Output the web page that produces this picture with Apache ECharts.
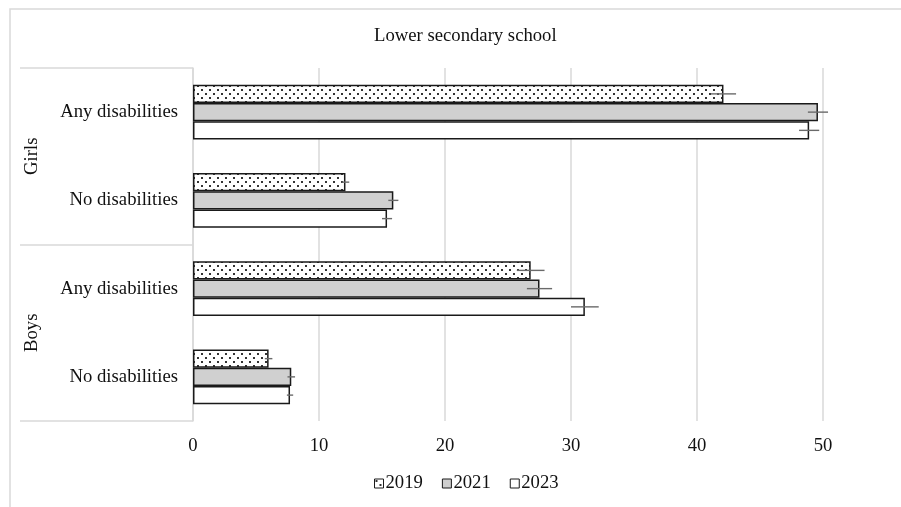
<!DOCTYPE html>
<html>
<head>
<meta charset="utf-8">
<script src="https://cdn.jsdelivr.net/npm/echarts@6/dist/echarts.min.js"></script>
<style>
html,body{margin:0;padding:0;background:#fff;}
#chart{width:901px;height:507px;}
</style>
</head>
<body>
<div id="chart"></div>
<script>
// ---- data ----
const title = 'Lower secondary school';
const groups = ['Girls', 'Boys'];
const subgroups = ['Any disabilities', 'No disabilities'];
const years = ['2019', '2021', '2023'];
const values2019 = [42.1, 12.1, 26.8, 6.0];
const values2021 = [49.6, 15.9, 27.5, 7.8];
const values2023 = [48.9, 15.4, 31.1, 7.7];
const err2019 = [1.0, 0.3, 1.1, 0.3];
const err2021 = [0.8, 0.4, 1.0, 0.3];
const err2023 = [0.8, 0.4, 1.1, 0.25];
const xTicks = [0, 10, 20, 30, 40, 50];

// ---- build ----
const categories = [];
groups.forEach(g => subgroups.forEach(s => categories.push(g + '|' + s)));
const seriesValues = [values2019, values2021, values2023];
const seriesErrors = [err2019, err2021, err2023];

const FONT = '"Liberation Serif", "Times New Roman", serif';
const FS = 18.7;
const TXT = '#111';
const GRID = '#d9d9d9';

// dotted pattern
const pc = document.createElement('canvas');
pc.width = 8; pc.height = 8;
const pctx = pc.getContext('2d');
pctx.fillStyle = '#fff';
pctx.fillRect(0, 0, 8, 8);
pctx.fillStyle = '#333';
pctx.fillRect(1, 1, 2, 2);
pctx.fillRect(5, 5, 2, 2);

const fills = [
  { image: pc, repeat: 'repeat' },
  '#d0d0d0',
  '#ffffff'
];

const CAT_GAP = 0.38;

const barSeries = years.map((y, i) => ({
  name: y,
  type: 'bar',
  yAxisIndex: 0,
  data: seriesValues[i],
  barGap: '0%',
  barCategoryGap: (CAT_GAP * 100) + '%',
  itemStyle: { color: fills[i], borderColor: '#1a1a1a', borderWidth: 1.5 },
  emphasis: { disabled: true },
  animation: false,
  z: 2
}));

const errSeries = years.map((y, i) => ({
  name: y + ' err',
  type: 'custom',
  yAxisIndex: 0,
  clip: false,
  z: 5,
  silent: true,
  animation: false,
  data: seriesValues[i].map((v, k) => [v, k, seriesErrors[i][k]]),
  renderItem: function (params, api) {
    const v = api.value(0), k = api.value(1), e = api.value(2);
    const band = api.size([0, 1])[1];
    const bw = band * (1 - CAT_GAP) / 3;
    const off = (i - 1) * bw;
    const p1 = api.coord([v - e, k]);
    const p2 = api.coord([v + e, k]);
    const yy = p1[1] + off;
    return {
      type: 'line',
      shape: { x1: p1[0], y1: yy, x2: p2[0], y2: yy },
      style: { stroke: '#6a6a6a', lineWidth: 1.4 }
    };
  }
}));

const chart = echarts.init(document.getElementById('chart'), null, { renderer: 'canvas' });
chart.setOption({
  backgroundColor: '#fff',
  animation: false,
  title: {
    text: title,
    left: 369,
    top: 22,
    textStyle: { fontFamily: FONT, fontSize: FS, fontWeight: 'normal', color: TXT }
  },
  legend: {
    data: years,
    left: 369,
    top: 469,
    icon: 'rect',
    itemWidth: 9,
    itemHeight: 9,
    itemGap: 19,
    itemStyle: { borderWidth: 1, borderColor: '#1a1a1a' },
    textStyle: { fontFamily: FONT, fontSize: FS, color: TXT, padding: [0, 0, 0, -3] }
  },
  grid: { left: 193, right: 78, top: 68, bottom: 86, containLabel: false },
  xAxis: {
    type: 'value',
    min: xTicks[0],
    max: xTicks[xTicks.length - 1],
    interval: xTicks[1] - xTicks[0],
    axisLine: { show: false },
    axisTick: { show: false },
    splitLine: { show: true, lineStyle: { color: GRID, width: 1.5 } },
    axisLabel: { fontFamily: FONT, fontSize: FS, color: TXT, margin: 16 }
  },
  yAxis: [
    {
      type: 'category',
      data: categories,
      inverse: true,
      axisLine: { show: true, lineStyle: { color: GRID, width: 1.5 } },
      axisTick: { show: false },
      axisLabel: {
        fontFamily: FONT, fontSize: FS, color: TXT, margin: 15,
        formatter: v => v.split('|')[1]
      }
    },
    {
      type: 'category',
      data: groups,
      inverse: true,
      position: 'left',
      axisLine: { show: false },
      axisTick: { show: true, length: 173, lineStyle: { color: GRID, width: 1.5 } },
      splitLine: { show: false },
      axisLabel: {
        fontFamily: FONT, fontSize: FS, color: TXT, rotate: 90, margin: 151
      }
    }
  ],
  graphic: [
    {
      type: 'rect',
      shape: { x: 10, y: 9, width: 900, height: 510 },
      style: { fill: 'none', stroke: GRID, lineWidth: 1.5 },
      silent: true,
      z: -1
    }
  ],
  series: barSeries.concat(errSeries)
});
</script>
</body>
</html>
